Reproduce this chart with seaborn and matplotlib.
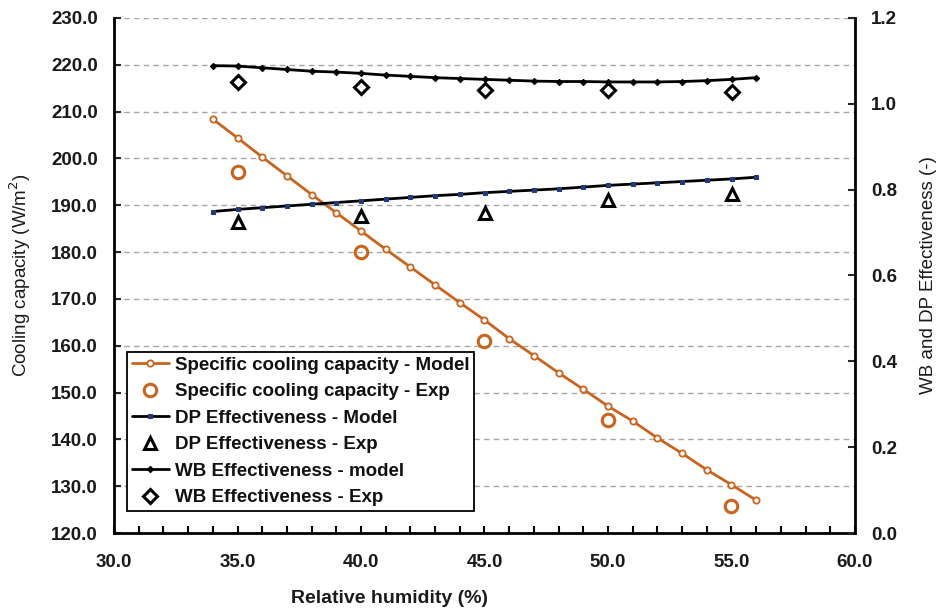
import matplotlib
matplotlib.use("Agg")
import matplotlib.pyplot as plt
import seaborn as sns
import pandas as pd
from matplotlib.ticker import MultipleLocator, FormatStrFormatter

# ---- data ----
rh_model = [34, 35, 36, 37, 38, 39, 40, 41, 42, 43, 44, 45, 46, 47, 48, 49, 50, 51, 52, 53, 54, 55, 56]
cooling_model = [208.4, 204.4, 200.3, 196.3, 192.3, 188.4, 184.5, 180.6, 176.8, 173.0, 169.2, 165.5,
                 161.5, 157.9, 154.2, 150.7, 147.1, 143.9, 140.3, 137.0, 133.5, 130.3, 127.0]
dp_model = [0.749, 0.754, 0.758, 0.762, 0.766, 0.770, 0.774, 0.778, 0.782, 0.786, 0.789, 0.793,
            0.796, 0.799, 0.802, 0.806, 0.810, 0.813, 0.816, 0.819, 0.822, 0.825, 0.829]
wb_model = [1.089, 1.088, 1.084, 1.080, 1.076, 1.074, 1.071, 1.067, 1.064, 1.061, 1.059, 1.057,
            1.055, 1.053, 1.052, 1.052, 1.051, 1.051, 1.051, 1.052, 1.054, 1.057, 1.061]

rh_exp = [35, 40, 45, 50, 55]
cooling_exp = [197.1, 180.0, 161.0, 144.1, 125.8]
dp_exp = [0.725, 0.739, 0.745, 0.776, 0.790]
wb_exp = [1.052, 1.040, 1.032, 1.032, 1.028]

labels = ["Specific cooling capacity - Model", "Specific cooling capacity - Exp",
          "DP Effectiveness - Model", "DP Effectiveness - Exp",
          "WB Effectiveness - model", "WB Effectiveness - Exp"]

df_model = pd.DataFrame({"rh": rh_model, "cool": cooling_model, "dp": dp_model, "wb": wb_model})
df_exp = pd.DataFrame({"rh": rh_exp, "cool": cooling_exp, "dp": dp_exp, "wb": wb_exp})

# ---- style ----
sns.set_style("white")
plt.rcParams["font.family"] = ["Liberation Sans", "DejaVu Sans"]
plt.rcParams["axes.unicode_minus"] = False

ORANGE = "#C8641E"
NAVY = "#1F3B78"
TXT = "#1A1A1A"

fig = plt.figure(figsize=(9.43, 6.10), dpi=100)
ax = fig.add_axes([114 / 943, 1 - 533 / 610, (855 - 114) / 943, (533 - 18) / 610])
ax2 = ax.twinx()

# left axis: cooling capacity
sns.lineplot(data=df_model, x="rh", y="cool", ax=ax, color=ORANGE, lw=2,
             marker="o", markersize=4.5, markerfacecolor="white", markeredgecolor=ORANGE,
             markeredgewidth=1.3, label=labels[0], legend=False)
sns.lineplot(data=df_exp, x="rh", y="cool", ax=ax, color=ORANGE, linestyle="none",
             marker="o", markersize=9, markerfacecolor="none", markeredgecolor=ORANGE,
             markeredgewidth=2.2, label=labels[1], legend=False)

# right axis: effectiveness
sns.lineplot(data=df_model, x="rh", y="dp", ax=ax2, color="black", lw=2,
             marker="s", markersize=3.5, markerfacecolor=NAVY, markeredgecolor=NAVY,
             label=labels[2], legend=False)
sns.lineplot(data=df_exp, x="rh", y="dp", ax=ax2, color="black", linestyle="none",
             marker="^", markersize=8, markerfacecolor="none", markeredgecolor="black",
             markeredgewidth=2.2, label=labels[3], legend=False)
sns.lineplot(data=df_model, x="rh", y="wb", ax=ax2, color="black", lw=2,
             marker="D", markersize=3.2, markerfacecolor="black", markeredgecolor="black",
             label=labels[4], legend=False)
sns.lineplot(data=df_exp, x="rh", y="wb", ax=ax2, color="black", linestyle="none",
             marker="D", markersize=7, markerfacecolor="none", markeredgecolor="black",
             markeredgewidth=2.2, label=labels[5], legend=False)

# axes limits / ticks
ax.set_xlim(30, 60)
ax.set_ylim(120, 230)
ax2.set_ylim(0, 1.2)

ax.xaxis.set_major_locator(MultipleLocator(5))
ax.xaxis.set_minor_locator(MultipleLocator(1))
ax.xaxis.set_major_formatter(FormatStrFormatter("%.1f"))
ax.yaxis.set_major_locator(MultipleLocator(10))
ax.yaxis.set_major_formatter(FormatStrFormatter("%.1f"))
ax2.yaxis.set_major_locator(MultipleLocator(0.2))
ax2.yaxis.set_major_formatter(FormatStrFormatter("%.1f"))

ax.tick_params(axis="x", which="both", direction="in", length=5, width=1.5, pad=15,
               bottom=True, colors="black", labelcolor=TXT)
ax.tick_params(axis="y", which="major", direction="in", length=5, width=1.5, pad=11.5,
               left=True, right=False, labelcolor=TXT)
ax2.tick_params(axis="y", which="major", direction="in", length=5, width=1.5, pad=11.5,
                right=True, labelcolor=TXT)
for lab in ax.get_xticklabels() + ax.get_yticklabels() + ax2.get_yticklabels():
    lab.set_fontsize(13.5)
    lab.set_fontweight("bold")

# grid
ax.grid(axis="y", color="#A6A6A6", linestyle=(0, (4, 3)), lw=1)
ax.grid(axis="x", visible=False)
ax2.grid(False)
ax.set_axisbelow(True)

# spines
for a in (ax, ax2):
    a.spines["top"].set_visible(False)
    for s in ("left", "right", "bottom"):
        a.spines[s].set_linewidth(2)
        a.spines[s].set_color("black")
ax.spines["right"].set_visible(False)
ax2.spines["left"].set_visible(False)
ax2.spines["bottom"].set_visible(False)

# labels
ax.set_xlabel("Relative humidity (%)", fontsize=14, fontweight="bold", color=TXT)
ax.xaxis.set_label_coords((390 - 114) / 741, -0.111)
ax.set_ylabel("Cooling capacity (W/m$^2$)", fontsize=13.5, color=TXT)
ax.yaxis.set_label_coords(-(114 - 33) / 741, 0.5)
ax2.set_ylabel("WB and DP Effectiveness (-)", fontsize=13.5, color=TXT, rotation=90)
ax2.yaxis.set_label_coords((920 - 114) / 741, 0.5)

# legend
h1, l1 = ax.get_legend_handles_labels()
h2, l2 = ax2.get_legend_handles_labels()
leg = ax2.legend(h1 + h2, l1 + l2, loc="upper left",
                 bbox_to_anchor=((127 - 114) / 741, (533 - 352) / 515),
                 borderaxespad=0, frameon=True, fancybox=False, framealpha=1,
                 edgecolor="black", handlelength=2.0, handletextpad=0.3,
                 labelspacing=0.5, borderpad=0.25,
                 prop={"size": 13.5, "weight": "bold"})
leg.get_frame().set_linewidth(1.3)
for t in leg.get_texts():
    t.set_color("#111111")

fig.savefig("out.png", dpi=100)
